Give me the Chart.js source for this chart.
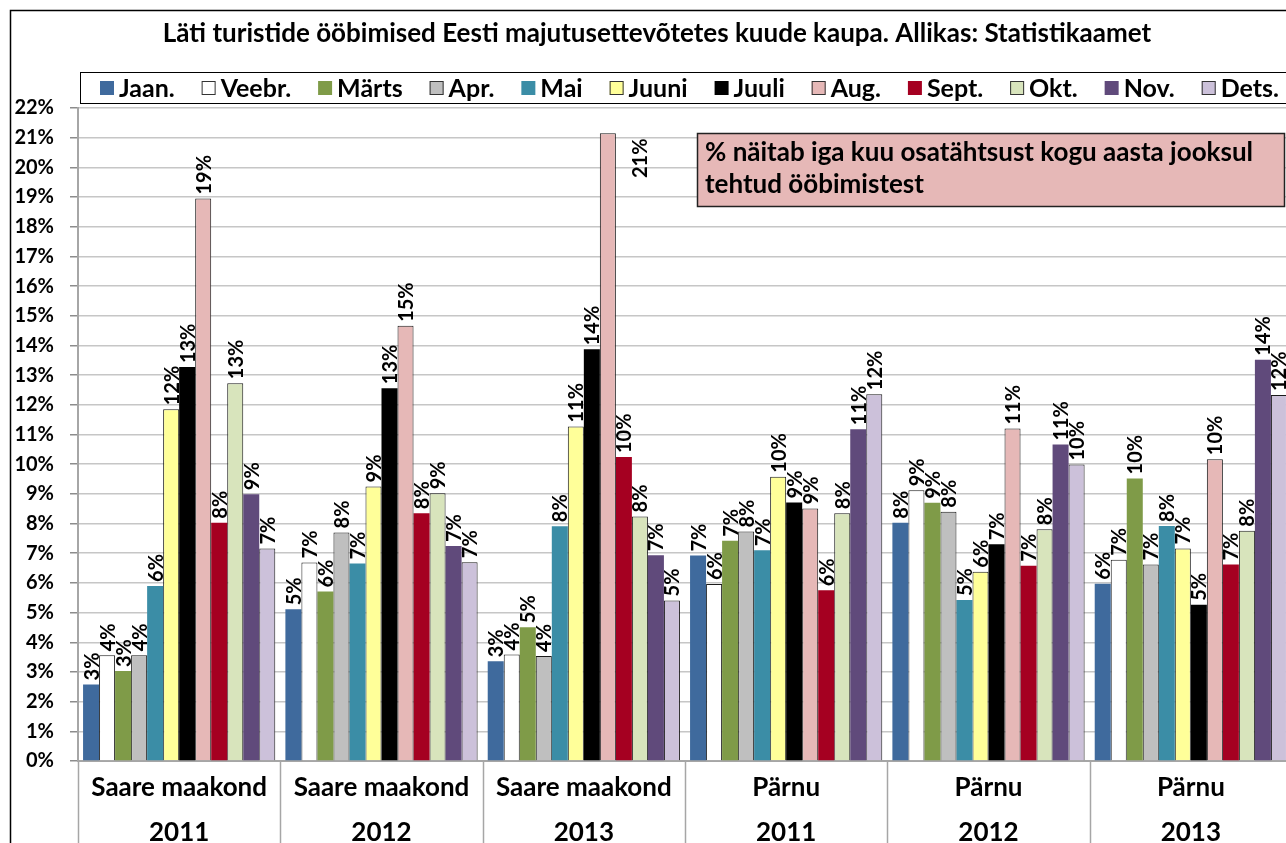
<!DOCTYPE html>
<html>
<head>
    <title>Läti turistide ööbimised</title>
    <style>
        body { margin: 0; overflow: hidden; background: #fff; }
        #chart { position: absolute; left: 0; top: 0; }
    </style>
</head>
<body>
    <canvas id="chart" width="1310" height="860"></canvas>
    <script src="https://cdn.jsdelivr.net/npm/chart.js@4.4.0/dist/chart.umd.min.js"></script>
    <script>
        // Andmed (% kuu osatähtsus aasta ööbimistest)
        const groups = [
            ['Saare maakond', '2011'], ['Saare maakond', '2012'], ['Saare maakond', '2013'],
            ['Pärnu', '2011'], ['Pärnu', '2012'], ['Pärnu', '2013']
        ];
        const months = ['Jaan.', 'Veebr.', 'Märts', 'Apr.', 'Mai', 'Juuni', 'Juuli', 'Aug.', 'Sept.', 'Okt.', 'Nov.', 'Dets.'];

        const jaan  = [2.58, 5.11, 3.36, 6.92, 8.03, 5.97];
        const veebr = [3.56, 6.69, 3.59, 5.96, 9.12, 6.78];
        const marts = [3.03, 5.71, 4.51, 7.42, 8.70, 9.52];
        const apr   = [3.56, 7.70, 3.54, 7.73, 8.40, 6.62];
        const mai   = [5.90, 6.65, 7.91, 7.10, 5.42, 7.92];
        const juuni = [11.85, 9.25, 11.27, 9.58, 6.38, 7.16];
        const juuli = [13.27, 12.56, 13.87, 8.71, 7.30, 5.26];
        const aug   = [18.95, 14.66, 21.15, 8.51, 11.20, 10.17];
        const sept  = [8.03, 8.35, 10.24, 5.75, 6.58, 6.62];
        const okt   = [12.73, 9.02, 8.24, 8.35, 7.81, 7.76];
        const nov   = [8.99, 7.24, 6.93, 11.18, 10.66, 13.52];
        const dets  = [7.16, 6.70, 5.41, 12.36, 9.99, 12.33];

        const seriesValues = [jaan, veebr, marts, apr, mai, juuni, juuli, aug, sept, okt, nov, dets];
        const colors = ['#3F6A9D', '#FFFFFF', '#7F9B48', '#BFBFBF', '#3B8DA6', '#FFFF99',
                        '#000000', '#E6B8B7', '#A50021', '#D8E4BC', '#604A7B', '#CCC1DA'];
        const outlined = [false, true, false, true, false, true, false, true, false, true, false, true];

        const yTicks = [];
        for (let i = 0; i <= 22; i++) yTicks.push(i);

        const noteLines = ['% näitab iga kuu osatähtsust kogu aasta jooksul', 'tehtud ööbimistest'];
        const titleText = 'Läti turistide ööbimised Eesti majutusettevõtetes kuude kaupa. Allikas: Statistikaamet';

        const FONT = 'Lato, "Open Sans", sans-serif';

        const datasets = months.map((m, i) => ({
            label: m,
            data: seriesValues[i],
            backgroundColor: colors[i],
            borderColor: outlined[i] ? '#1a1a1a' : colors[i],
            borderWidth: outlined[i] ? 1 : 0,
            categoryPercentage: 0.95,
            barPercentage: 1.0
        }));

        // Sildid tulpade kohal (pööratud)
        const barLabels = {
            id: 'barLabels',
            afterDatasetsDraw(chart) {
                const ctx = chart.ctx;
                const area = chart.chartArea;
                ctx.save();
                ctx.font = 'bold 20px ' + FONT;
                ctx.fillStyle = '#000';
                ctx.textBaseline = 'middle';
                chart.data.datasets.forEach((ds, di) => {
                    const meta = chart.getDatasetMeta(di);
                    meta.data.forEach((bar, i) => {
                        const txt = Math.round(ds.data[i]) + '%';
                        const w = ctx.measureText(txt).width;
                        let x = bar.x, y = bar.y - 4;
                        if (y - w < area.top) {
                            // ei mahu üles – paremale poole tulpa
                            x = bar.x + bar.width * 2;
                            y = area.top + 70;
                        }
                        ctx.save();
                        ctx.translate(x, y);
                        ctx.rotate(-Math.PI / 2);
                        ctx.textAlign = 'left';
                        ctx.fillText(txt, 0, 1);
                        ctx.restore();
                    });
                });
                ctx.restore();
            }
        };

        // Raam, pealkiri, legend, märkus, x-telje eraldusjooned
        const decorations = {
            id: 'decorations',
            beforeDraw(chart) {
                const ctx = chart.ctx;
                ctx.save();
                ctx.fillStyle = '#fff';
                ctx.fillRect(0, 0, chart.width, chart.height);
                ctx.restore();
            },
            afterDraw(chart) {
                const ctx = chart.ctx;
                const area = chart.chartArea;
                ctx.save();

                // välisraam
                ctx.strokeStyle = '#000';
                ctx.lineWidth = 1.5;
                ctx.strokeRect(10.5, 10.5, 1294, 900);

                // pealkiri
                ctx.fillStyle = '#000';
                ctx.font = 'bold 26px ' + FONT;
                ctx.textAlign = 'center';
                ctx.textBaseline = 'middle';
                ctx.fillText(titleText, 657, 34);

                // legend
                ctx.lineWidth = 1;
                ctx.strokeRect(80.5, 72.5, 1215, 31);
                ctx.font = 'bold 25px ' + FONT;
                ctx.textAlign = 'left';
                const box = 14, gap = 5, startX = 100, endX = 1279;
                const widths = months.map(m => box + gap + ctx.measureText(m).width);
                const total = widths.reduce((a, b) => a + b, 0);
                const spacing = (endX - startX - total) / (months.length - 1);
                let lx = startX;
                months.forEach((m, i) => {
                    ctx.fillStyle = colors[i];
                    ctx.fillRect(lx, 81, box, box);
                    if (outlined[i]) {
                        ctx.strokeStyle = '#333';
                        ctx.strokeRect(lx + 0.5, 81.5, box - 1, box - 1);
                    }
                    ctx.fillStyle = '#000';
                    ctx.fillText(m, lx + box + gap, 89);
                    lx += widths[i] + spacing;
                });

                // märkuse kast
                ctx.fillStyle = '#E6B8B7';
                ctx.fillRect(697, 133, 587, 73);
                ctx.strokeStyle = '#222';
                ctx.lineWidth = 1.5;
                ctx.strokeRect(697.5, 133.5, 587, 73);
                ctx.fillStyle = '#000';
                ctx.font = 'bold 26px ' + FONT;
                ctx.fillText(noteLines[0], 705, 153);
                ctx.fillText(noteLines[1], 705, 185);

                // x-telje rühmade eraldusjooned
                const step = (area.right - area.left) / groups.length;
                ctx.strokeStyle = '#A6A6A6';
                ctx.lineWidth = 1.5;
                for (let i = 0; i <= groups.length; i++) {
                    const px = Math.round(area.left + i * step) + 0.5;
                    ctx.beginPath();
                    ctx.moveTo(px, area.bottom);
                    ctx.lineTo(px, chart.height);
                    ctx.stroke();
                }
                ctx.restore();
            }
        };

        new Chart(document.getElementById('chart'), {
            type: 'bar',
            data: { labels: groups, datasets: datasets },
            options: {
                responsive: false,
                animation: false,
                devicePixelRatio: 1,
                layout: { padding: { top: 108, right: 18, left: 0, bottom: 0 } },
                plugins: {
                    legend: { display: false },
                    title: { display: false },
                    tooltip: { enabled: false }
                },
                scales: {
                    x: {
                        offset: true,
                        grid: { display: false, drawTicks: false },
                        border: { color: '#A6A6A6', width: 2 },
                        ticks: {
                            color: '#000',
                            padding: 4,
                            font: { family: FONT, size: 26, weight: 'bold', lineHeight: 1.73 }
                        },
                        afterFit(scale) { scale.height = 99; }
                    },
                    y: {
                        min: 0,
                        max: 22,
                        afterBuildTicks(scale) { scale.ticks = yTicks.map(v => ({ value: v })); },
                        grid: { color: '#C6C6C6', lineWidth: 1.5, tickColor: '#8C8C8C', tickLength: 8 },
                        border: { color: '#A6A6A6', width: 2 },
                        ticks: {
                            color: '#000',
                            padding: 16,
                            font: { family: FONT, size: 20, weight: 'bold' },
                            callback: v => v + '%'
                        },
                        afterFit(scale) { scale.width = 78; }
                    }
                }
            },
            plugins: [decorations, barLabels]
        });
    </script>
</body>
</html>
